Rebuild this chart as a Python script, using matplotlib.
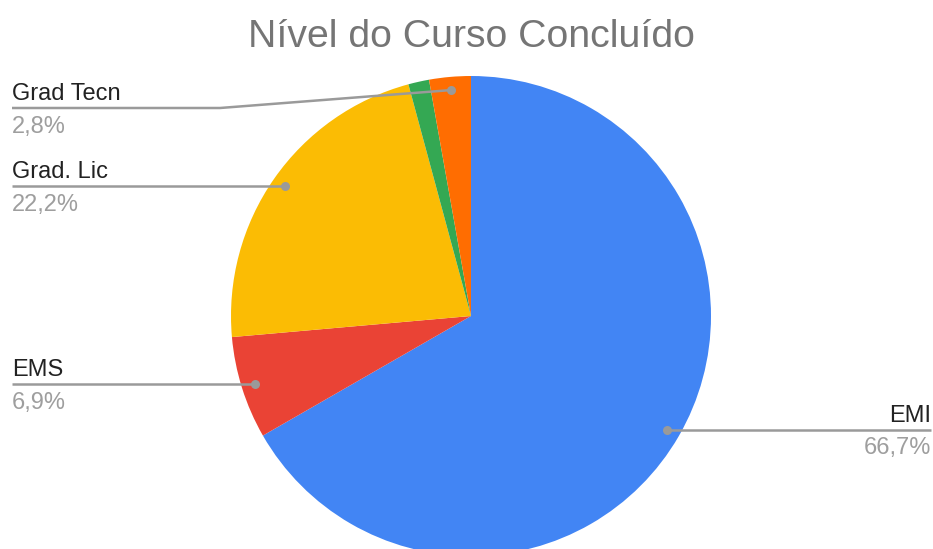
import numpy as np
import matplotlib.pyplot as plt

# chart data
labels = ['EMI', 'EMS', 'Grad. Lic', '', 'Grad Tecn']
values = [66.7, 6.9, 22.2, 1.4, 2.8]
pct_text = ['66,7%', '6,9%', '22,2%', '', '2,8%']
colors = ['#4285F4', '#EA4335', '#FBBC04', '#34A853', '#FF6D01']

W, H = 933, 549
plt.rcParams['font.family'] = ['Liberation Sans', 'DejaVu Sans']

fig = plt.figure(figsize=(W / 100, H / 100), dpi=100)
ax = fig.add_axes([0, 0, 1, 1])

cx, cy, r = 471, H - 316, 240
wedges, _ = ax.pie(values, colors=colors, startangle=90, counterclock=False,
                   center=(cx, cy), radius=r, frame=True,
                   wedgeprops=dict(linewidth=0))
ax.set_xlim(0, W)
ax.set_ylim(0, H)
ax.axis('off')

ax.text(cx, H - 47, 'Nível do Curso Concluído', ha='center', va='baseline',
        fontsize=28.3, color='#757575')

line_col = '#9a9a9a'
# leader layout: (index, side, line y in px from top or None for straight)
leaders = [(0, 'right', None), (1, 'left', None), (2, 'left', None), (4, 'left', 108)]
for i, side, ly in leaders:
    w = wedges[i]
    ang = np.deg2rad((w.theta1 + w.theta2) / 2)
    dx = cx + 0.945 * r * np.cos(ang)
    dy = cy + 0.945 * r * np.sin(ang)
    line_y = dy if ly is None else H - ly
    if side == 'left':
        xs = [dx, 220, 12] if ly is not None else [dx, 12]
        ys = [dy, line_y, line_y] if ly is not None else [dy, line_y]
        tx, ha = 12, 'left'
    else:
        xs, ys = [dx, 931], [dy, line_y]
        tx, ha = 931, 'right'
    ax.plot(xs, ys, color=line_col, lw=1.8, solid_capstyle='butt', zorder=3)
    ax.plot(dx, dy, 'o', color=line_col, ms=6.5, mec='none', zorder=4)
    ax.text(tx, line_y + 8, labels[i], ha=ha, va='baseline', fontsize=17,
            color='#222222')
    ax.text(tx, line_y - 24.5, pct_text[i], ha=ha, va='baseline', fontsize=17,
            color='#9e9e9e')

fig.savefig('out.png', dpi=100)
